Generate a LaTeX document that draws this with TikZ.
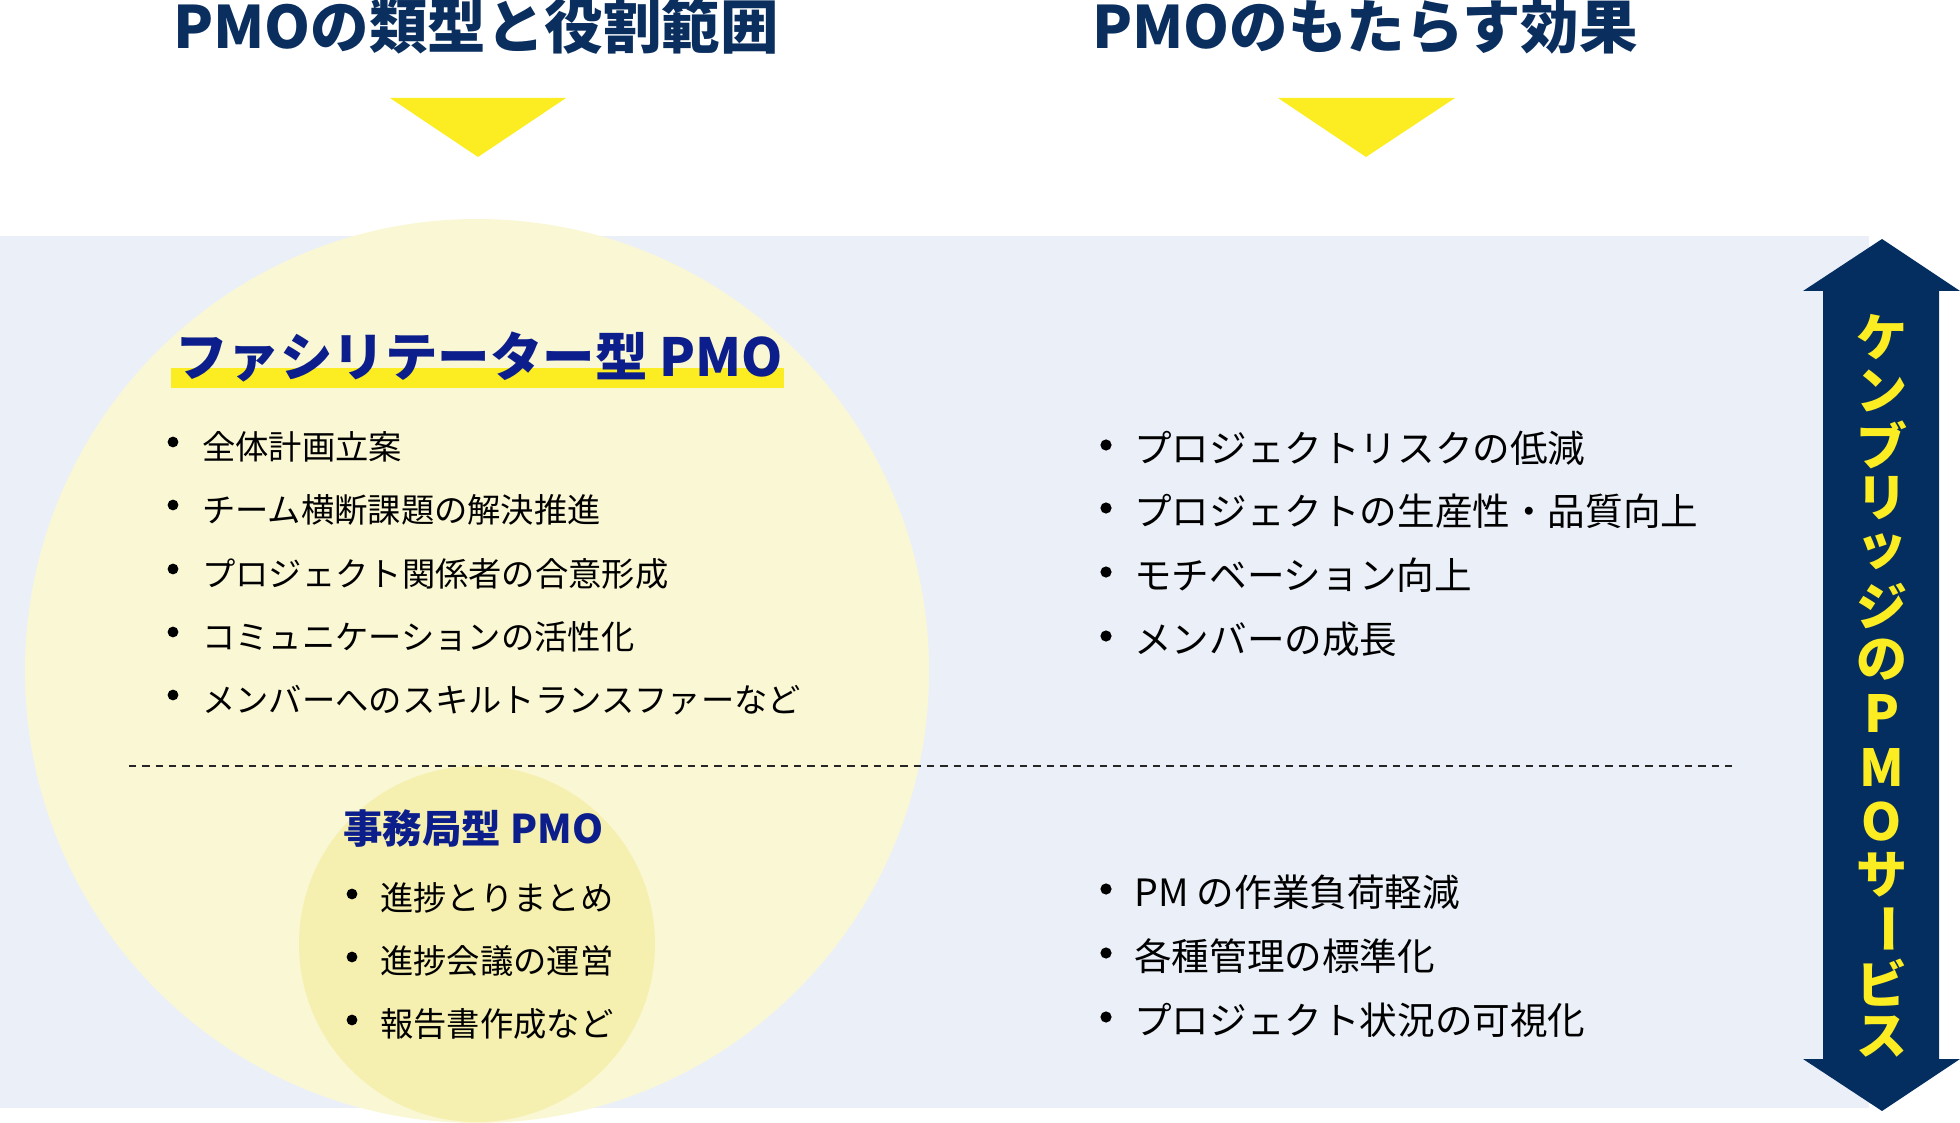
\documentclass[tikz,border=0pt]{standalone}
\usepackage{fontspec}
\newfontfamily\jp{Noto Sans CJK JP}
\definecolor{titlenavy}{HTML}{0A2E5E}
\definecolor{arrownavy}{HTML}{042E60}
\definecolor{hiyellow}{HTML}{FCEC22}
\definecolor{headblue}{HTML}{0C1E8C}
\definecolor{panelbg}{HTML}{EBF0F8}
\definecolor{bigcirc}{HTML}{FAF7D4}
\definecolor{smallcirc}{HTML}{F6F0B0}
\begin{document}
\begin{tikzpicture}[x=1pt,y=-1pt,
  titletext/.style={font=\jp\bfseries\fontsize{58.5}{64}\selectfont, text=titlenavy, anchor=base, inner sep=0},
  headtext/.style={font=\jp\bfseries\fontsize{52.5}{58}\selectfont, text=headblue, anchor=base west, inner sep=0},
  subhead/.style={font=\jp\bfseries\fontsize{39.5}{44}\selectfont, text=headblue, anchor=base west, inner sep=0},
  litem/.style={font=\jp\fontsize{33.3}{40}\selectfont, text=black, anchor=base west, inner sep=0},
  ritem/.style={font=\jp\fontsize{37.6}{42}\selectfont, text=black, anchor=base west, inner sep=0},
  vchar/.style={font=\jp\bfseries\fontsize{51}{56}\selectfont, text=hiyellow, anchor=center, inner sep=0},
  tri/.style={fill=hiyellow},
  dot/.style={fill=black}
]
\useasboundingbox (0,0) rectangle (1960,1123);
% panel
\fill[panelbg] (0,236) rectangle (1869,1108);
% circles
\fill[bigcirc] (477,671) circle[radius=452];
\fill[smallcirc] (477,944) circle[radius=178];
% dashed divider
\draw[line width=2.2pt, dash pattern=on 7.3pt off 6pt, color=black!85] (129,766) -- (1733,766);
% titles
\node[titletext] (t1) at (476,49) {PMOの類型と役割範囲};
\node[titletext] (t2) at (1365,49) {PMOのもたらす効果};
% triangles
\fill[tri] (390,98) -- (566,98) -- (478,157) -- cycle;
\fill[tri] (1278,98) -- (1455,98) -- (1366,157) -- cycle;
% facilitator heading
\fill[hiyellow] (171,368) rectangle (784,388);
\node[headtext] (h1) at (175,377) {ファシリテーター型 PMO};
% left list
\foreach \yy/\txt [count=\i] in {459/全体計画立案, 522/チーム横断課題の解決推進, 586/プロジェクト関係者の合意形成, 649/コミュニケーションの活性化, 712/メンバーへのスキルトランスファーなど}{
  \fill[dot] (173,\yy-17) circle[radius=5.4];
  \node[litem] (l\i) at (202,\yy) {\txt};
}
% secretariat heading
\node[subhead] (h2) at (343,843) {事務局型 PMO};
\foreach \yy/\txt [count=\i] in {910/進捗とりまとめ, 973/進捗会議の運営, 1036/報告書作成など}{
  \fill[dot] (352,\yy-16) circle[radius=5.4];
  \node[litem] (s\i) at (380,\yy) {\txt};
}
% right lists
\foreach \yy/\txt [count=\i] in {462/プロジェクトリスクの低減, 525/プロジェクトの生産性・品質向上, 589/モチベーション向上, 653/メンバーの成長, 906/PM の作業負荷軽減, 970/各種管理の標準化, 1034/プロジェクト状況の可視化}{
  \fill[dot] (1106,\yy-17) circle[radius=5.6];
  \node[ritem] (r\i) at (1134,\yy) {\txt};
}
% double arrow
\fill[arrownavy] (1882,239) -- (1960,291) -- (1939,291) -- (1939,1059) -- (1960,1059) -- (1882,1111) -- (1803,1059) -- (1823,1059) -- (1823,291) -- (1803,291) -- cycle;
\foreach \ch [count=\i from 0] in {ケ,ン,ブ,リ,ッ,ジ,の,P,M,O,サ,ー,ビ,ス}{
  \ifnum\i=11
    \node[vchar, rotate=-90] (v\i) at (1882,337+53.8*\i) {\ch};
  \else
    \node[vchar] (v\i) at (1882,337+53.8*\i) {\ch};
  \fi
}
\end{tikzpicture}
\end{document}
